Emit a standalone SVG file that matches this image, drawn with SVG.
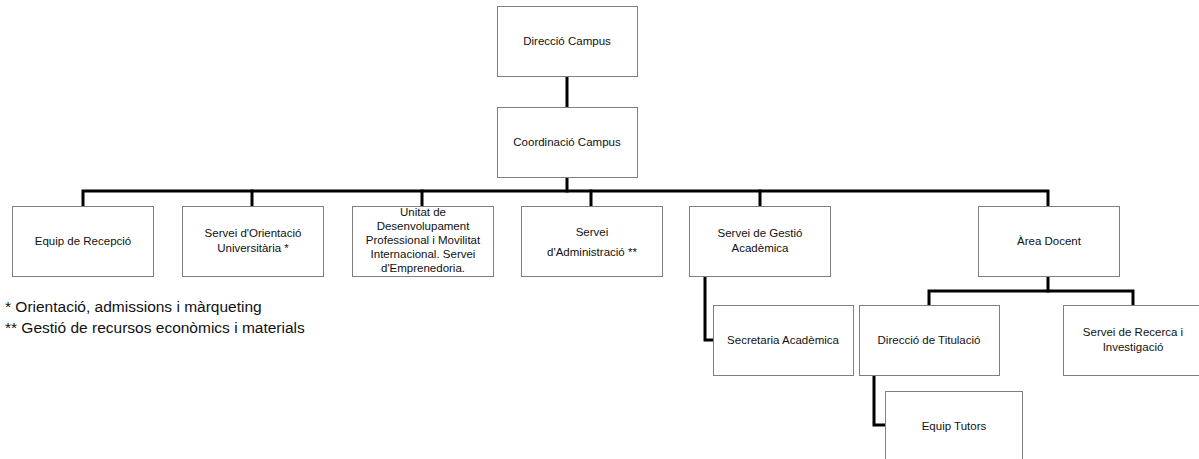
<svg xmlns="http://www.w3.org/2000/svg" width="1199" height="459" viewBox="0 0 1199 459">
<style>
.box{fill:#fff;stroke:#7f7f7f;stroke-width:1}
.t{font-family:"Liberation Sans",Arial,sans-serif;font-size:11.5px;fill:#111;text-anchor:middle}
.fn{font-family:"Liberation Sans",Arial,sans-serif;font-size:15.5px;fill:#111}
.c{fill:none;stroke:#000;stroke-width:3;stroke-linecap:square;stroke-linejoin:miter}
</style>
<rect width="1199" height="459" fill="#fff"/>
<g id="connectors">
<path class="c" d="M567,77V107"/>
<path class="c" d="M567,177V191"/>
<path class="c" d="M83,205V191H1048V205"/>
<path class="c" d="M252,191V205M422,191V205M591,191V205M760,191V205"/>
<path class="c" d="M1048,277V291"/>
<path class="c" d="M929,304V291H1133V304"/>
<path class="c" d="M705,277V340H712"/>
<path class="c" d="M874,375V425H885"/>
</g>
<g id="direccio-campus"><rect class="box" x="497.5" y="6.5" width="140" height="70"/><text class="t" x="567" y="45">Direcció Campus</text></g>
<g id="coordinacio-campus"><rect class="box" x="497.5" y="107.5" width="140" height="70"/><text class="t" x="567" y="146">Coordinació Campus</text></g>
<g id="equip-recepcio"><rect class="box" x="12.5" y="206.5" width="141" height="70"/><text class="t" x="83" y="245">Equip de Recepció</text></g>
<g id="servei-orientacio"><rect class="box" x="182.5" y="206.5" width="141" height="70"/><text class="t" x="253" y="237">Servei d'Orientació</text><text class="t" x="253" y="252">Universitària *</text></g>
<g id="unitat-desenvolupament"><rect class="box" x="352.5" y="206.5" width="141" height="70"/><text class="t" x="423" y="216">Unitat de</text><text class="t" x="423" y="230">Desenvolupament</text><text class="t" x="423" y="244">Professional i Movilitat</text><text class="t" x="423" y="258">Internacional. Servei</text><text class="t" x="423" y="272">d'Emprenedoria.</text></g>
<g id="servei-administracio"><rect class="box" x="521.5" y="206.5" width="141" height="70"/><text class="t" x="592" y="236">Servei</text><text class="t" x="592" y="256">d'Administració **</text></g>
<g id="servei-gestio-academica"><rect class="box" x="689.5" y="206.5" width="141" height="70"/><text class="t" x="760" y="237">Servei de Gestió</text><text class="t" x="760" y="252">Acadèmica</text></g>
<g id="area-docent"><rect class="box" x="978.5" y="206.5" width="141" height="70"/><text class="t" x="1049" y="245">Àrea Docent</text></g>
<g id="secretaria-academica"><rect class="box" x="713.5" y="305.5" width="140" height="70"/><text class="t" x="783" y="344">Secretaria Acadèmica</text></g>
<g id="direccio-titulacio"><rect class="box" x="859.5" y="305.5" width="140" height="70"/><text class="t" x="929" y="344">Direcció de Titulació</text></g>
<g id="servei-recerca"><rect class="box" x="1063.5" y="305.5" width="140" height="70"/><text class="t" x="1133" y="336">Servei de Recerca i</text><text class="t" x="1133" y="351">Investigació</text></g>
<g id="equip-tutors"><rect class="box" x="885.5" y="391.5" width="137" height="70"/><text class="t" x="954" y="430">Equip Tutors</text></g>
<g id="footnotes"><text class="fn" x="5" y="312">* Orientació, admissions i màrqueting</text><text class="fn" x="5" y="333">** Gestió de recursos econòmics i materials</text></g>
</svg>
